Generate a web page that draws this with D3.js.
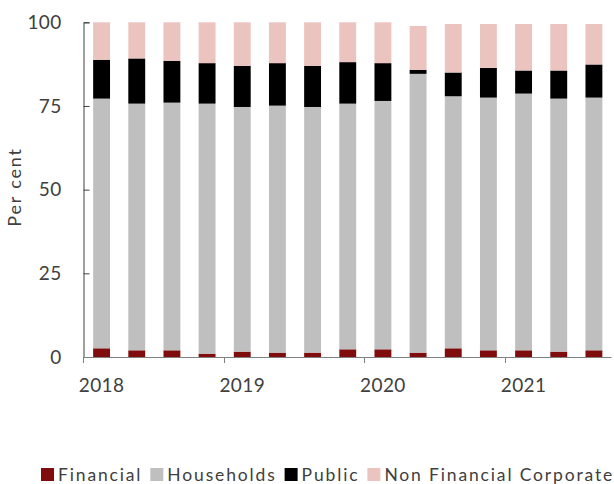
<!DOCTYPE html>
<html><head><meta charset="utf-8">
<script src="https://cdn.jsdelivr.net/npm/d3@7"></script>
<style>body{margin:0;background:#fff}svg{display:block}text{font-family:Lato,"Noto Sans",sans-serif;fill:#404040}</style>
</head><body><svg id="c" width="614" height="484"></svg>
<script>
const quarters = ["2018Q1","2018Q2","2018Q3","2018Q4","2019Q1","2019Q2","2019Q3","2019Q4","2020Q1","2020Q2","2020Q3","2020Q4","2021Q1","2021Q2","2021Q3"];
const financial = [2.6,2.0,2.0,1.0,1.6,1.3,1.3,2.3,2.3,1.3,2.6,2.0,2.0,1.6,2.0];
const households = [74.6,73.7,74.0,74.7,73.1,73.8,73.4,73.4,74.2,83.3,75.3,75.5,76.7,75.6,75.5];
const publicSec = [11.6,13.5,12.5,12.1,12.3,12.7,12.3,12.4,11.3,1.2,7.1,8.9,6.9,8.4,9.9];
const nonFinCorp = [11.2,10.8,11.5,12.2,13.0,12.2,13.0,11.9,12.2,13.1,14.5,13.1,13.9,13.9,12.1];
const seriesNames = ["Financial","Households","Public","Non Financial Corporate"];
const colors = ["#7f0d0d","#bfbfbf","#000000","#ebc3bf"];
const yTicks = [0,25,50,75,100];
const yearLabels = ["2018","2019","2020","2021"];

const svg = d3.select("#c");
const L = 84, R = 611.5, T = 22.3, B = 357;
const x = d3.scaleBand().domain(quarters).range([L, R]).paddingInner(0.52).paddingOuter(0.26);
const y = d3.scaleLinear().domain([0,100]).range([B, T]);

const rows = quarters.map((q,i)=>({q, Financial:financial[i], Households:households[i], Public:publicSec[i], "Non Financial Corporate":nonFinCorp[i]}));
const stack = d3.stack().keys(seriesNames)(rows);

svg.append("g").selectAll("g").data(stack).join("g")
  .attr("fill",(d,i)=>colors[i])
  .selectAll("rect").data(d=>d).join("rect")
  .attr("x",d=>x(d.data.q)).attr("width",x.bandwidth())
  .attr("y",d=>y(d[1])).attr("height",d=>y(d[0])-y(d[1]));

// y axis
const ya = svg.append("g").attr("transform",`translate(${L-0.5},0)`)
  .call(d3.axisLeft(y).tickValues(yTicks).tickSize(-6).tickSizeOuter(-6).tickPadding(22));
ya.select(".domain").attr("stroke","#404040");
ya.selectAll(".tick line").attr("stroke","#404040");
ya.selectAll("text").style("font-size","19px").style("letter-spacing","0.3px").attr("fill","#404040");

// x axis
const step = x.step();
const xa = svg.append("g");
xa.append("line").attr("x1",L-0.5).attr("x2",R).attr("y1",B+0.5).attr("y2",B+0.5).attr("stroke","#808080");
const firstQ = quarters.filter(q=>q.endsWith("Q1"));
xa.selectAll(".tk").data(firstQ).join("line").attr("class","tk")
  .attr("x1",q=>Math.round(x(q)+x.bandwidth()/2-step/2)-0.5)
  .attr("x2",q=>Math.round(x(q)+x.bandwidth()/2-step/2)-0.5)
  .attr("y1",B).attr("y2",B+6).attr("stroke","#808080");
xa.selectAll(".lb").data(firstQ).join("text").attr("class","lb")
  .attr("x",q=>x(q)+x.bandwidth()/2).attr("y",B+35)
  .attr("text-anchor","middle").style("font-size","19px").style("letter-spacing","0.4px")
  .text((q,i)=>yearLabels[i]);

// y title
svg.append("text").attr("transform","translate(21,187) rotate(-90)")
  .attr("text-anchor","middle").style("font-size","18px").style("letter-spacing","1.8px").text("Per cent");

// legend
const lg = svg.append("g");
let lx = 41;
seriesNames.forEach((n,i)=>{
  lg.append("rect").attr("x",lx).attr("y",468).attr("width",13).attr("height",13).attr("fill",colors[i]);
  const t = lg.append("text").attr("x",lx+17).attr("y",481).style("font-size","17.5px").style("letter-spacing","1.85px").text(n);
  lx += 17 + t.node().getComputedTextLength() + 8;
});
</script></body></html>
